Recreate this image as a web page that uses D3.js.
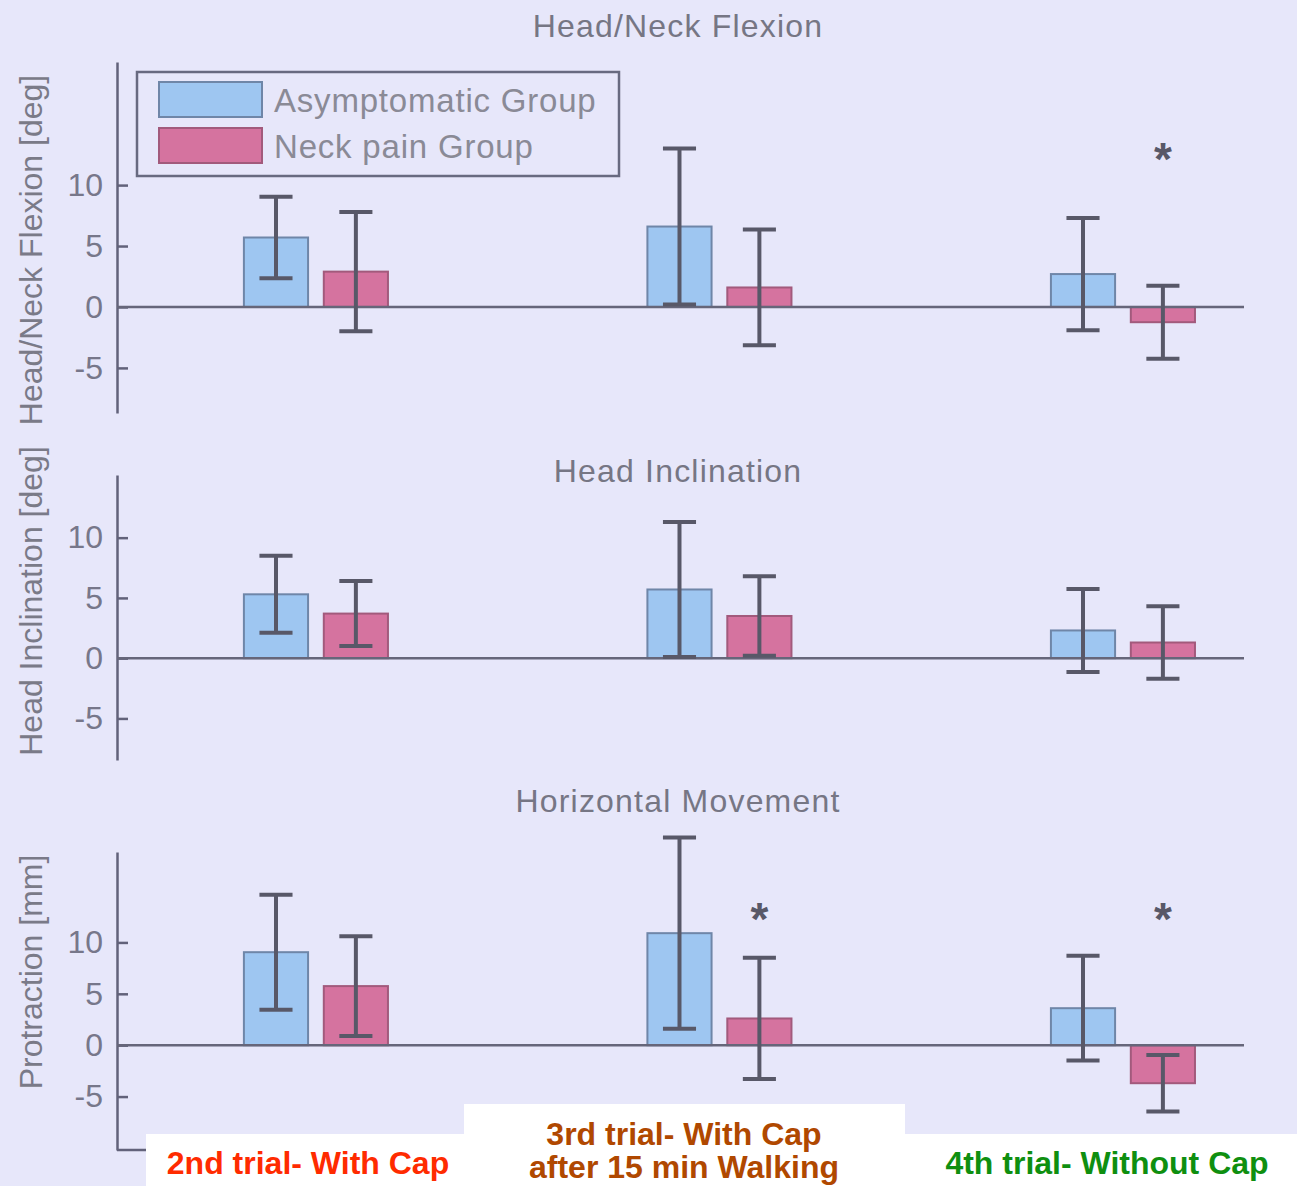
<!DOCTYPE html>
<html lang="en">
<head>
<meta charset="utf-8">
<title>Head posture with and without cap</title>
<style>
  body { margin: 0; background: #e7e7fa; }
  svg { display: block; font-family: "Liberation Sans", Arial, sans-serif; }
</style>
</head>
<body>
<svg width="1297" height="1186"></svg>
<script src="https://d3js.org/d3.v7.min.js"></script>
<script>

// trials and groups
var trials = [1, 2, 3];
var groups = ["Asymptomatic Group", "Neck pain Group"];
var yTicks = [-5, 0, 5, 10];

// [asymptomatic, neck pain] per trial
var flexionMean = [[5.7, 2.9], [6.6, 1.6], [2.7, -1.25]];
var flexionSD = [[3.35, 4.9], [6.4, 4.75], [4.6, 3.0]];
var flexionStars = [2];

var inclinationMean = [[5.3, 3.7], [5.7, 3.5], [2.3, 1.3]];
var inclinationSD = [[3.2, 2.7], [5.6, 3.3], [3.45, 3.0]];
var inclinationStars = [];

var protractionMean = [[9.05, 5.75], [10.9, 2.6], [3.6, -3.7]];
var protractionSD = [[5.6, 4.85], [9.3, 5.9], [5.1, 2.75]];
var protractionStars = [1, 2];

var trialLabels = [["2nd trial- With Cap"], ["3rd trial- With Cap", "after 15 min Walking"], ["4th trial- Without Cap"]];
var trialColors = ["#ff2b00", "#b04800", "#0f8f10"];

var svg = d3.select("svg");
var fill = ["#9ec6f1", "#d5739f"],
    edge = ["#6f86a8", "#a25a7c"],
    ink = "#585868";

var x = d3.scaleLinear().domain([0.507, 3.3]).range([117, 1244]);
var offset = [-0.099, 0.099], barW = 0.159, capW = 0.082;

var panels = [
  { title: "Head/Neck Flexion", ylabel: "Head/Neck Flexion [deg]", mean: flexionMean, sd: flexionSD,
    stars: flexionStars, domain: [-8.7, 20.1], range: [413, 62], titleY: 37, labelY: 250, starAt: 13 },
  { title: "Head Inclination", ylabel: "Head Inclination [deg]", mean: inclinationMean, sd: inclinationSD,
    stars: inclinationStars, domain: [-8.45, 15.2], range: [760, 475], titleY: 482, labelY: 601, starAt: 13 },
  { title: "Horizontal Movement", ylabel: "Protraction [mm]", mean: protractionMean, sd: protractionSD,
    stars: protractionStars, domain: [-10.2, 18.8], range: [1150, 852], titleY: 812, labelY: 972, starAt: 13.3, base: true }
];

panels.forEach(function(p) {
  var y = d3.scaleLinear().domain(p.domain).range(p.range);
  var g = svg.append("g");

  g.append("text")
      .attr("x", 678).attr("y", p.titleY)
      .attr("text-anchor", "middle")
      .attr("font-size", 32).attr("letter-spacing", 1.2)
      .attr("fill", "#767684")
      .text(p.title);

  g.append("text")
      .attr("transform", "translate(42," + p.labelY + ") rotate(-90)")
      .attr("text-anchor", "middle")
      .attr("font-size", 32)
      .attr("fill", "#7a7a88")
      .text(p.ylabel);

  var axis = g.append("g")
      .attr("transform", "translate(" + x.range()[0] + ",0)")
      .call(d3.axisLeft(y).tickValues(yTicks).tickSize(-11).tickSizeOuter(0).tickPadding(14)
        .tickFormat(function(d) { return String(d); }));
  axis.select(".domain").attr("stroke", "#62627a").attr("stroke-width", 2.5);
  axis.selectAll(".tick line").attr("stroke", "#62627a").attr("stroke-width", 2.5);
  axis.selectAll(".tick text").attr("font-size", 32).attr("fill", "#77778a")
      .attr("font-family", "\"Liberation Sans\", Arial, sans-serif");

  if (p.base) {
    g.append("line")
        .attr("x1", x.range()[0]).attr("x2", x.range()[1])
        .attr("y1", y.range()[0]).attr("y2", y.range()[0])
        .attr("stroke", "#62627a").attr("stroke-width", 2.5);
  }

  var cells = [];
  trials.forEach(function(t, i) {
    groups.forEach(function(grp, j) {
      cells.push({ t: t, j: j, m: p.mean[i][j], s: p.sd[i][j] });
    });
  });

  g.selectAll("rect.bar")
    .data(cells)
    .enter().append("rect")
      .attr("class", "bar")
      .attr("x", function(d) { return x(d.t + offset[d.j] - barW / 2); })
      .attr("width", function(d) { return x(d.t + barW / 2) - x(d.t - barW / 2); })
      .attr("y", function(d) { return y(Math.max(0, d.m)); })
      .attr("height", function(d) { return Math.abs(y(d.m) - y(0)); })
      .attr("fill", function(d) { return fill[d.j]; })
      .attr("stroke", function(d) { return edge[d.j]; })
      .attr("stroke-width", 2);

  g.append("line")
      .attr("x1", x.range()[0]).attr("x2", x.range()[1])
      .attr("y1", y(0)).attr("y2", y(0))
      .attr("stroke", "#66667a").attr("stroke-width", 2.5);

  var err = g.selectAll("g.err")
    .data(cells)
    .enter().append("g")
      .attr("class", "err")
      .attr("stroke", ink).attr("stroke-width", 4);
  err.append("line")
      .attr("x1", function(d) { return x(d.t + offset[d.j]); })
      .attr("x2", function(d) { return x(d.t + offset[d.j]); })
      .attr("y1", function(d) { return y(d.m - d.s); })
      .attr("y2", function(d) { return y(d.m + d.s); });
  [-1, 1].forEach(function(k) {
    err.append("line")
        .attr("x1", function(d) { return x(d.t + offset[d.j] - capW / 2); })
        .attr("x2", function(d) { return x(d.t + offset[d.j] + capW / 2); })
        .attr("y1", function(d) { return y(d.m + k * d.s); })
        .attr("y2", function(d) { return y(d.m + k * d.s); });
  });

  g.selectAll("text.star")
    .data(p.stars)
    .enter().append("text")
      .attr("class", "star")
      .attr("x", function(i) { return x(trials[i] + offset[1]); })
      .attr("y", y(p.starAt) + 0.575 * 46)
      .attr("text-anchor", "middle")
      .attr("font-size", 46).attr("font-weight", "bold")
      .attr("fill", ink)
      .text("*");
});

// legend
var legend = svg.append("g");
legend.append("rect")
    .attr("x", 137).attr("y", 72).attr("width", 482).attr("height", 104)
    .attr("fill", "none").attr("stroke", "#686a80").attr("stroke-width", 2.5);
groups.forEach(function(name, j) {
  legend.append("rect")
      .attr("x", 159).attr("y", 82 + j * 46).attr("width", 103).attr("height", 35)
      .attr("fill", fill[j]).attr("stroke", edge[j]).attr("stroke-width", 2);
  legend.append("text")
      .attr("x", 274).attr("y", 112 + j * 46)
      .attr("font-size", 33).attr("letter-spacing", 0.8)
      .attr("fill", "#8a8a96")
      .text(name);
});

// trial labels on white boxes
var boxes = [[146, 1134, 318, 52], [464, 1104, 441, 82], [905, 1134, 392, 52]];
var labelX = [308, 684, 1107];
boxes.forEach(function(b, i) {
  svg.append("rect")
      .attr("x", b[0]).attr("y", b[1]).attr("width", b[2]).attr("height", b[3])
      .attr("fill", "#ffffff");
  var lines = trialLabels[i];
  lines.forEach(function(line, k) {
    svg.append("text")
        .attr("x", labelX[i])
        .attr("y", lines.length > 1 ? 1145 + k * 33 : 1174)
        .attr("text-anchor", "middle")
        .attr("font-size", 32).attr("font-weight", "bold")
        .attr("fill", trialColors[i])
        .text(line);
  });
});

</script>
</body>
</html>
